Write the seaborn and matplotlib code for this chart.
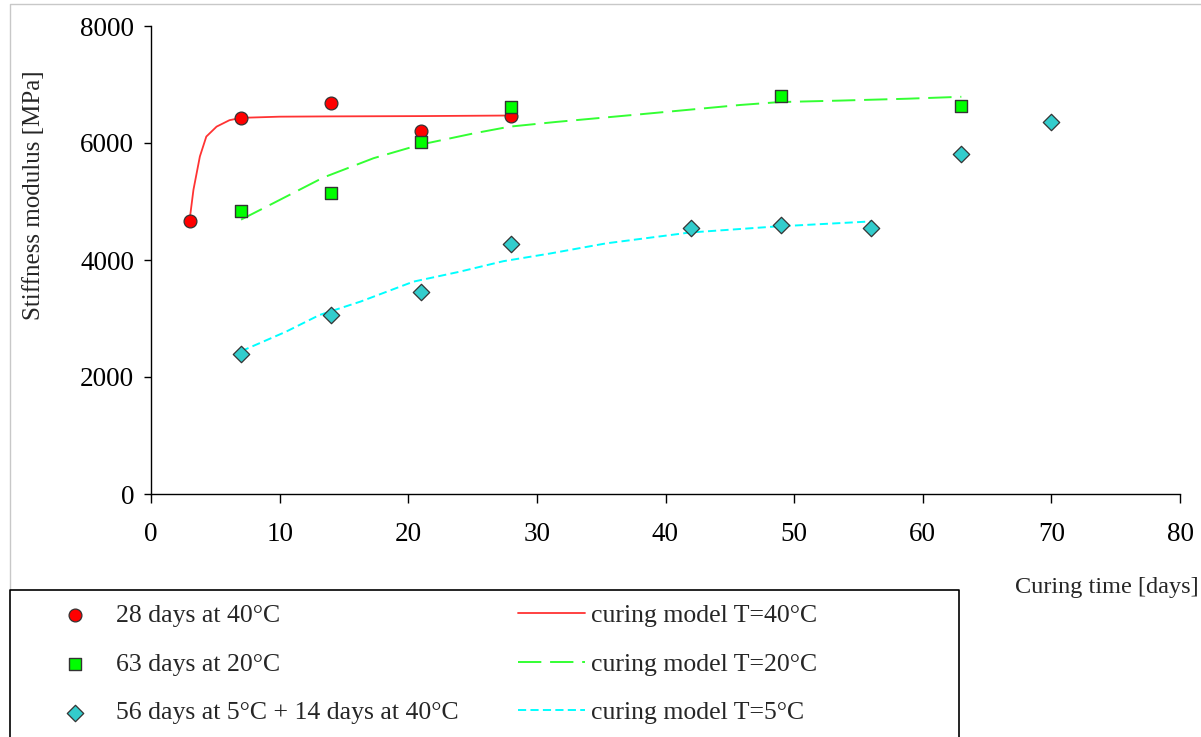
import numpy as np
import pandas as pd
import seaborn as sns
import matplotlib.pyplot as plt
from matplotlib.lines import Line2D

# measured points
x_40 = [3, 7, 14, 21, 28]
y_40 = [4670, 6435, 6690, 6210, 6470]

x_20 = [7, 14, 21, 28, 49, 63]
y_20 = [4840, 5145, 6020, 6610, 6805, 6635]

x_5 = [7, 14, 21, 28, 42, 49, 56, 63, 70]
y_5 = [2395, 3060, 3455, 4275, 4545, 4600, 4545, 5810, 6365]

# curing model curves
fit40_x = [3, 3.3, 3.8, 4.3, 5.1, 6.1, 7, 10, 14, 21, 28]
fit40_y = [4680, 5200, 5770, 6110, 6280, 6390, 6430, 6450, 6455, 6460, 6470]

fit20_x = [7, 9.5, 13.4, 17.3, 20.9, 25.1, 27.9, 31.5, 38, 45.8, 48.9, 53.6, 58.8, 63]
fit20_y = [4690, 4970, 5410, 5740, 5970, 6165, 6280, 6360, 6490, 6650, 6700, 6725, 6757, 6790]

fit5_x = [7, 10.5, 13.1, 16.3, 20.4, 24, 27.4, 31, 35.4, 41.9, 48.4, 55.6, 56]
fit5_y = [2440, 2775, 3060, 3290, 3630, 3800, 3980, 4110, 4285, 4470, 4570, 4655, 4660]

sns.set_style("ticks")
plt.rcParams['font.family'] = ['Liberation Serif', 'DejaVu Serif']
plt.rcParams['font.size'] = 18

W, H = 1201, 737
fig = plt.figure(figsize=(W / 100, H / 100), dpi=100)
ax = fig.add_axes([151 / W, 1 - 494 / H, (1180 - 151) / W, (494 - 26) / H])

# model lines
sns.lineplot(x=fit40_x, y=fit40_y, ax=ax, color="#ff3333", lw=1.3, sort=False,
             estimator=None, label="curing model T=40°C")
sns.lineplot(x=fit20_x, y=fit20_y, ax=ax, color="#33ff33", lw=1.4, sort=False,
             estimator=None, linestyle=(0, (12, 4.5)), label="curing model T=20°C")
sns.lineplot(x=fit5_x, y=fit5_y, ax=ax, color="#00ffff", lw=1.4, sort=False,
             estimator=None, linestyle=(0, (4.2, 2.2)), label="curing model T=5°C")

# measurements
sns.scatterplot(x=x_40, y=y_40, ax=ax, marker="o", s=85, color="#ff0000",
                edgecolor="#333333", linewidth=0.9, zorder=5, label="28 days at 40°C")
sns.scatterplot(x=x_20, y=y_20, ax=ax, marker="s", s=85, color="#00ff00",
                edgecolor="#333333", linewidth=1.0, zorder=5, label="63 days at 20°C")
sns.scatterplot(x=x_5, y=y_5, ax=ax, marker="D", s=70, color="#33cccc",
                edgecolor="#333333", linewidth=0.9, zorder=5,
                label="56 days at 5°C + 14 days at 40°C")

ax.set_xlim(0, 80)
ax.set_ylim(0, 8000)
ax.set_xticks(range(0, 81, 10))
ax.set_yticks(range(0, 8001, 2000))
sns.despine(ax=ax)
for s in ax.spines.values():
    s.set_linewidth(1.0)
    s.set_color("black")
ax.tick_params(axis="y", length=5, width=1, pad=7, labelsize=19.5, colors="black")
ax.tick_params(axis="x", length=6.5, width=1, pad=14, labelsize=19.5, colors="black")

ax.set_ylabel("Stiffness modulus [MPa]", fontsize=18)
ax.yaxis.set_label_coords(-0.103, 0.638)
ax.set_xlabel("Curing time [days]", fontsize=17.5)
ax.xaxis.set_label_coords(0.929, -0.199)
ax.xaxis.label.set_va("center")

# legend in two separate columns
handles, labels = ax.get_legend_handles_labels()
ax.get_legend().remove()
pts = handles[3:]
lns = handles[:3]
leg1 = fig.legend(pts, labels[3:], loc="upper left",
                  bbox_to_anchor=(50 / W, 1 - 604 / H), frameon=False,
                  borderpad=0, borderaxespad=0, handlelength=1.95,
                  handletextpad=0.62, labelspacing=1.0, fontsize=18.5)
leg2 = fig.legend(lns, labels[:3], loc="upper left",
                  bbox_to_anchor=(518 / W, 1 - 604 / H), frameon=False,
                  borderpad=0, borderaxespad=0, handlelength=2.6,
                  handletextpad=0.25, labelspacing=1.0, fontsize=18.5)

# outer frame and legend box
def fline(xs, ys, **kw):
    fig.add_artist(Line2D([x / W for x in xs], [1 - y / H for y in ys],
                          transform=fig.transFigure, **kw))

fline([10, 10, W], [590, 4, 4], color="#c8c8c8", lw=1.0)
fline([10, 10, 959, 959], [H, 590, 590, H], color="black", lw=1.2)

fig.savefig("out.png", dpi=100)
